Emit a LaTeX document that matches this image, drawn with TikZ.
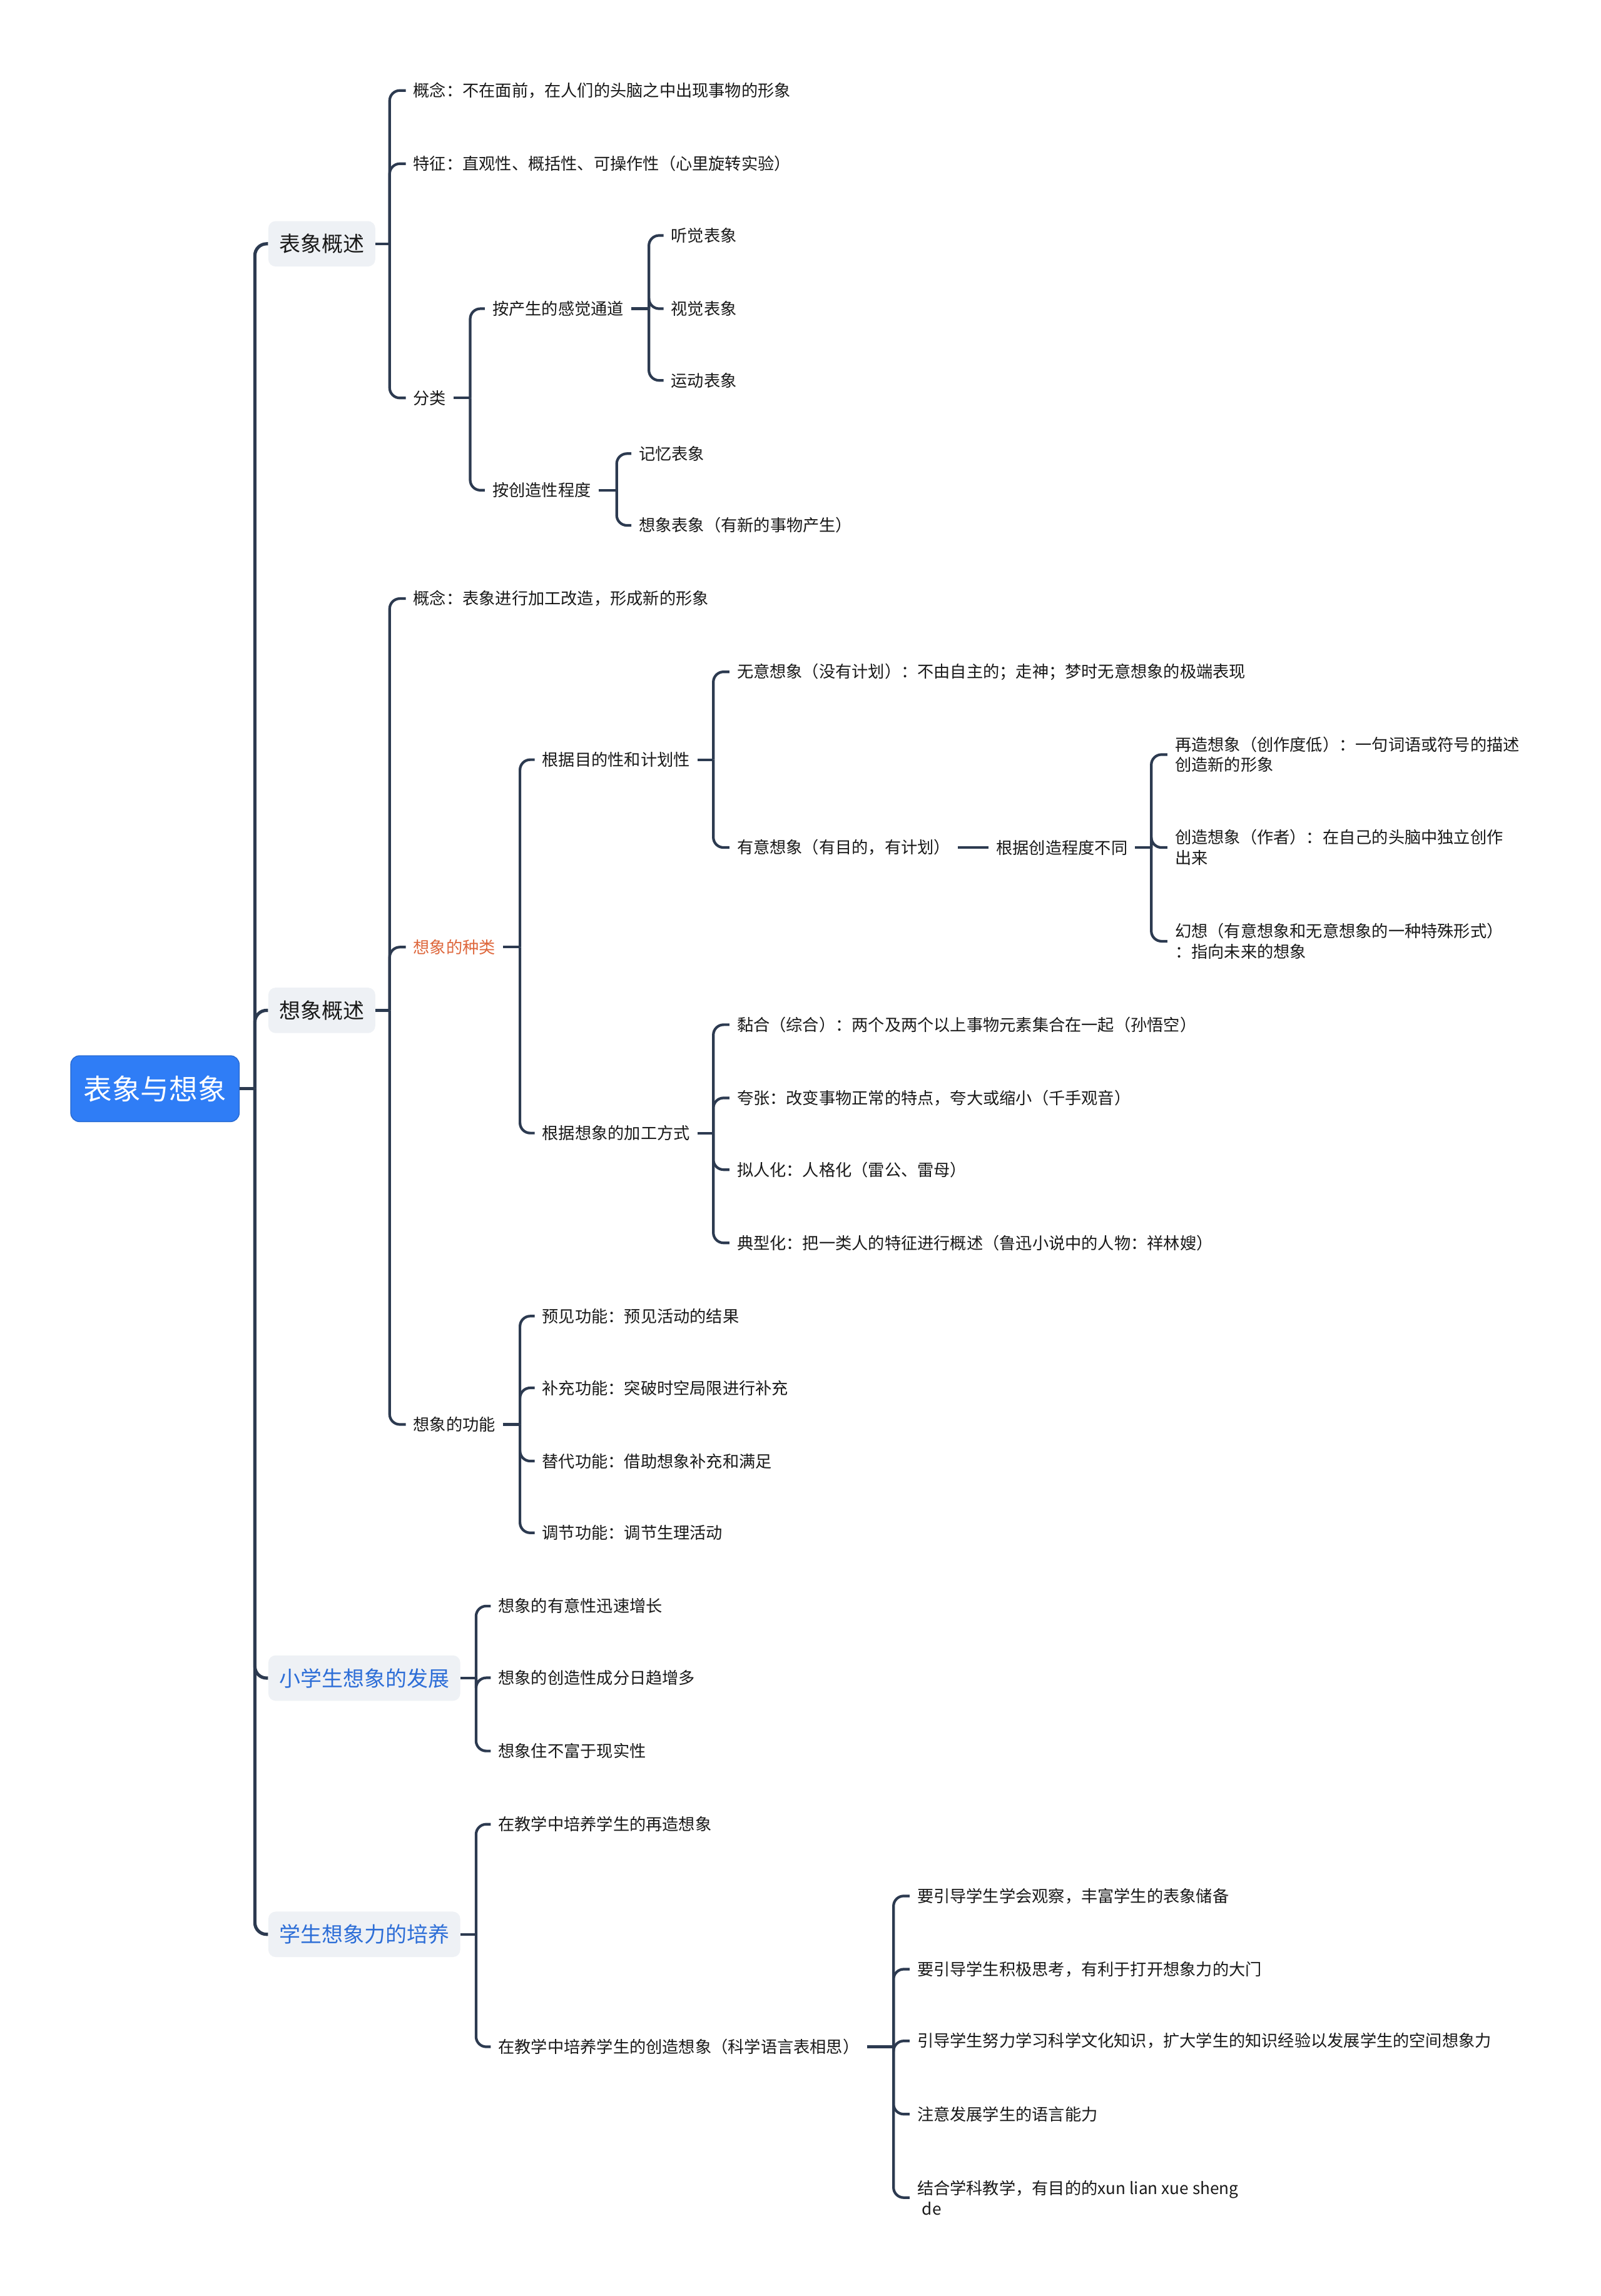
\documentclass[tikz,border=0pt]{standalone}
\usepackage{fontspec}
\setmainfont{Noto Sans CJK SC}
\definecolor{linec}{RGB}{44,58,80}
\definecolor{rootblue}{RGB}{47,125,246}
\definecolor{boxbg}{RGB}{238,241,245}
\definecolor{bluet}{RGB}{45,110,215}
\definecolor{oranget}{RGB}{222,103,60}
\definecolor{txt}{RGB}{25,25,25}
\tikzset{
  leaf/.style={anchor=west, inner xsep=5pt, inner ysep=2pt, text=txt, align=left,
    yshift=-0.8pt, font=\fontsize{11.2}{14}\selectfont},
  topic/.style={anchor=west, rounded corners=5pt, fill=boxbg, inner xsep=7.5pt,
    minimum height=31pt, text=txt, font=\fontsize{14.5}{17}\selectfont},
  rootbox/.style={anchor=west, rounded corners=6pt, fill=rootblue, draw=rootblue!85!black,
    line width=0.6pt, text=white, minimum width=115pt, minimum height=45pt,
    font=\fontsize{19.5}{22}\selectfont},
  conn/.style={draw=linec, line width=1.8pt, rounded corners=7pt},
  spine/.style={draw=linec, line width=2.2pt, rounded corners=8pt}
}
\begin{document}
\begin{tikzpicture}[x=1pt,y=-1pt]
\fill[white] (0,0) rectangle (1093,1568);
\useasboundingbox (0,0) rectangle (1093,1568);

% root and topics
\node[rootbox] (R) at (48,743.5) {表象与想象};
\node[topic] (A) at (183,166.5) {表象概述};
\node[topic] (B) at (183,690) {想象概述};
\node[topic,text=bluet] (C) at (183,1146) {小学生想象的发展};
\node[topic,text=bluet] (D) at (183,1321) {学生想象力的培养};

% 表象概述
\node[leaf] (A1) at (277,61) {概念：不在面前，在人们的头脑之中出现事物的形象};
\node[leaf] (A2) at (277,111) {特征：直观性、概括性、可操作性（心里旋转实验）};
\node[leaf] (A3) at (277,271) {分类};
\node[leaf] (A31) at (331,210) {按产生的感觉通道};
\node[leaf] (A32) at (331,334) {按创造性程度};
\node[leaf] (A311) at (453,160) {听觉表象};
\node[leaf] (A312) at (453,210) {视觉表象};
\node[leaf] (A313) at (453,259) {运动表象};
\node[leaf] (A321) at (431,309) {记忆表象};
\node[leaf] (A322) at (431,358) {想象表象（有新的事物产生）};

% 想象概述
\node[leaf] (B1) at (277,408) {概念：表象进行加工改造，形成新的形象};
\node[leaf,text=oranget] (B2) at (277,646) {想象的种类};
\node[leaf] (B3) at (277,972) {想象的功能};
\node[leaf] (B21) at (365,518) {根据目的性和计划性};
\node[leaf] (B22) at (365,773) {根据想象的加工方式};
\node[leaf] (B211) at (498,458) {无意想象（没有计划）：不由自主的；走神；梦时无意想象的极端表现};
\node[leaf] (B212) at (498,578) {有意想象（有目的，有计划）};
\node[leaf] (B213) at (675,578) {根据创造程度不同};
\node[leaf] (B2131) at (797,514.5) {再造想象（创作度低）：一句词语或符号的描述\\创造新的形象};
\node[leaf] (B2132) at (797,578) {创造想象（作者）：在自己的头脑中独立创作\\出来};
\node[leaf] (B2133) at (797,642) {幻想（有意想象和无意想象的一种特殊形式）\\：指向未来的想象};
\node[leaf] (B221) at (498,699) {黏合（综合）：两个及两个以上事物元素集合在一起（孙悟空）};
\node[leaf] (B222) at (498,749) {夸张：改变事物正常的特点，夸大或缩小（千手观音）};
\node[leaf] (B223) at (498,798) {拟人化：人格化（雷公、雷母）};
\node[leaf] (B224) at (498,848) {典型化：把一类人的特征进行概述（鲁迅小说中的人物：祥林嫂）};
\node[leaf] (B31) at (365,898) {预见功能：预见活动的结果};
\node[leaf] (B32) at (365,947) {补充功能：突破时空局限进行补充};
\node[leaf] (B33) at (365,997) {替代功能：借助想象补充和满足};
\node[leaf] (B34) at (365,1046) {调节功能：调节生理活动};

% 小学生想象的发展
\node[leaf] (C1) at (335,1096) {想象的有意性迅速增长};
\node[leaf] (C2) at (335,1145) {想象的创造性成分日趋增多};
\node[leaf] (C3) at (335,1195) {想象住不富于现实性};

% 学生想象力的培养
\node[leaf] (D1) at (335,1245) {在教学中培养学生的再造想象};
\node[leaf] (D2) at (335,1397) {在教学中培养学生的创造想象（科学语言表相思）};
\node[leaf] (D21) at (621,1294) {要引导学生学会观察，丰富学生的表象储备};
\node[leaf] (D22) at (621,1344) {要引导学生积极思考，有利于打开想象力的大门};
\node[leaf] (D23) at (621,1393) {引导学生努力学习科学文化知识，扩大学生的知识经验以发展学生的空间想象力};
\node[leaf] (D24) at (621,1443) {注意发展学生的语言能力};
\node[leaf] (D25) at (621,1500) {结合学科教学，有目的的xun lian xue sheng\\\hspace{0.3em}de};

% bus coordinates
\coordinate (Rb) at (174,0 |- R.east);
\coordinate (Ab) at (266,0 |- A.east);
\coordinate (A3b) at (321,0 |- A3.east);
\coordinate (A31b) at (443,0 |- A31.east);
\coordinate (A32b) at (421,0 |- A32.east);
\coordinate (Bb) at (266,0 |- B.east);
\coordinate (B2b) at (355,0 |- B2.east);
\coordinate (B21b) at (487,0 |- B21.east);
\coordinate (B213b) at (786,0 |- B213.east);
\coordinate (B22b) at (487,0 |- B22.east);
\coordinate (B3b) at (355,0 |- B3.east);
\coordinate (Cb) at (325,0 |- C.east);
\coordinate (Db) at (325,0 |- D.east);
\coordinate (D2b) at (610,0 |- D2.east);

% root connectors
\draw[spine] (R.east) -- (Rb);
\foreach \c in {A,B,C,D} \draw[spine] (Rb) |- (\c.west);

% connectors
\draw[conn] (A.east) -- (Ab);
\foreach \c in {A1,A2,A3} \draw[conn] (Ab) |- (\c.west);
\draw[conn] (A3.east) -- (A3b);
\foreach \c in {A31,A32} \draw[conn] (A3b) |- (\c.west);
\draw[conn] (A31.east) -- (A31b);
\foreach \c in {A311,A312,A313} \draw[conn] (A31b) |- (\c.west);
\draw[conn] (A32.east) -- (A32b);
\foreach \c in {A321,A322} \draw[conn] (A32b) |- (\c.west);

\draw[conn] (B.east) -- (Bb);
\foreach \c in {B1,B2,B3} \draw[conn] (Bb) |- (\c.west);
\draw[conn] (B2.east) -- (B2b);
\foreach \c in {B21,B22} \draw[conn] (B2b) |- (\c.west);
\draw[conn] (B21.east) -- (B21b);
\foreach \c in {B211,B212} \draw[conn] (B21b) |- (\c.west);
\draw[conn] (B212.east) -- (B213.west);
\draw[conn] (B213.east) -- (B213b);
\foreach \c in {B2131,B2132,B2133} \draw[conn] (B213b) |- (\c.west);
\draw[conn] (B22.east) -- (B22b);
\foreach \c in {B221,B222,B223,B224} \draw[conn] (B22b) |- (\c.west);
\draw[conn] (B3.east) -- (B3b);
\foreach \c in {B31,B32,B33,B34} \draw[conn] (B3b) |- (\c.west);

\draw[conn] (C.east) -- (Cb);
\foreach \c in {C1,C2,C3} \draw[conn] (Cb) |- (\c.west);
\draw[conn] (D.east) -- (Db);
\foreach \c in {D1,D2} \draw[conn] (Db) |- (\c.west);
\draw[conn] (D2.east) -- (D2b);
\foreach \c in {D21,D22,D23,D24,D25} \draw[conn] (D2b) |- (\c.west);
\end{tikzpicture}
\end{document}
